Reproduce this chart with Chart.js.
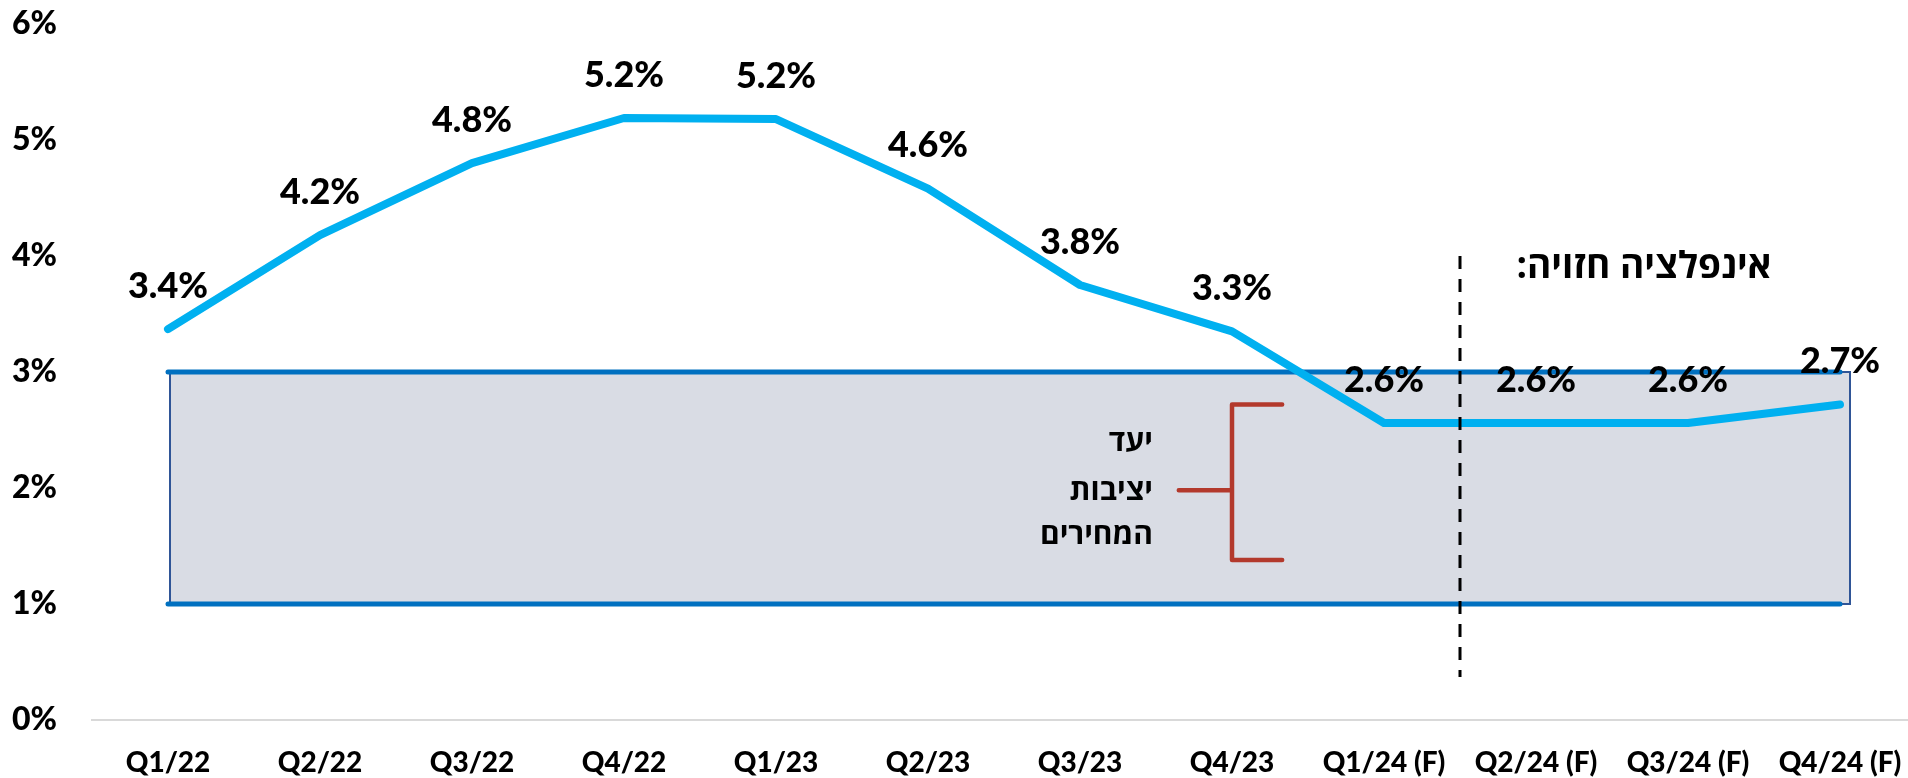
<!DOCTYPE html>
<html>
<head>
<meta charset="utf-8">
<script src="https://cdn.jsdelivr.net/npm/chart.js@4"></script>
<style>
  html, body { margin: 0; padding: 0; background: #fff; overflow: hidden; width: 1908px; height: 778px; }
  canvas { display: block; }
</style>
</head>
<body>
<canvas id="c" width="1916" height="778"></canvas>
<script>
const categories = ['Q1/22','Q2/22','Q3/22','Q4/22','Q1/23','Q2/23','Q3/23','Q4/23','Q1/24 (F)','Q2/24 (F)','Q3/24 (F)','Q4/24 (F)'];
const inflation = [3.37, 4.18, 4.80, 5.19, 5.18, 4.58, 3.75, 3.35, 2.56, 2.56, 2.56, 2.72];
const inflationLabels = ['3.4%','4.2%','4.8%','5.2%','5.2%','4.6%','3.8%','3.3%','2.6%','2.6%','2.6%','2.7%'];
const targetUpper = [3, 3, 3, 3, 3, 3, 3, 3, 3, 3, 3, 3];
const targetLower = [1, 1, 1, 1, 1, 1, 1, 1, 1, 1, 1, 1];
const yTicks = [0, 1, 2, 3, 4, 5, 6];
const forecastTitle = 'אינפלציה חזויה:';
const targetTextLines = ['יעד', 'יציבות', 'המחירים'];
const forecastSplitIndex = 8.5;

const FONT = 'Lato, "Open Sans", "Liberation Sans", "DejaVu Sans", sans-serif';
const HEB_FONT = '"Open Sans", "Liberation Sans", "DejaVu Sans", sans-serif';

const decorPlugin = {
  id: 'decor',
  beforeDatasetsDraw(chart) {
    const ctx = chart.ctx, x = chart.scales.x, y = chart.scales.y;
    const l = x.getPixelForValue(0) + 2, r = x.getPixelForValue(categories.length - 1) + 10;
    const t = y.getPixelForValue(targetUpper[0]), b = y.getPixelForValue(targetLower[0]);
    ctx.save();
    ctx.fillStyle = '#D9DCE4';
    ctx.fillRect(l, t, r - l, b - t);
    ctx.strokeStyle = '#2F5597';
    ctx.lineWidth = 2;
    ctx.strokeRect(l, t, r - l, b - t);
    ctx.restore();
  },
  afterDatasetsDraw(chart) {
    const ctx = chart.ctx, x = chart.scales.x, y = chart.scales.y;
    ctx.save();
    // data labels
    const meta = chart.getDatasetMeta(0);
    ctx.fillStyle = '#000';
    ctx.font = '900 36px ' + FONT;
    ctx.textAlign = 'center';
    ctx.textBaseline = 'middle';
    meta.data.forEach((pt, i) => {
      ctx.fillText(inflationLabels[i], pt.x, pt.y - 43);
    });
    // dashed forecast divider
    const dx = x.getPixelForValue(forecastSplitIndex);
    ctx.strokeStyle = '#000';
    ctx.lineWidth = 3;
    ctx.setLineDash([13, 10]);
    ctx.beginPath();
    ctx.moveTo(dx, y.getPixelForValue(4.0));
    ctx.lineTo(dx, y.getPixelForValue(0.37));
    ctx.stroke();
    ctx.setLineDash([]);
    // forecast title
    ctx.direction = 'rtl';
    ctx.font = 'bold 37px ' + HEB_FONT;
    ctx.textAlign = 'right';
    ctx.fillText(forecastTitle, x.getPixelForValue(10.55), y.getPixelForValue(3.9));
    // target bracket
    const bx = x.getPixelForValue(7);
    ctx.strokeStyle = '#B3392C';
    ctx.lineWidth = 4.5;
    ctx.lineCap = 'round';
    ctx.lineJoin = 'round';
    ctx.beginPath();
    ctx.moveTo(x.getPixelForValue(7.33), y.getPixelForValue(2.72));
    ctx.lineTo(bx, y.getPixelForValue(2.72));
    ctx.lineTo(bx, y.getPixelForValue(1.38));
    ctx.lineTo(x.getPixelForValue(7.33), y.getPixelForValue(1.38));
    ctx.moveTo(bx, y.getPixelForValue(1.98));
    ctx.lineTo(x.getPixelForValue(6.65), y.getPixelForValue(1.98));
    ctx.stroke();
    // target text
    ctx.fillStyle = '#000';
    ctx.font = 'bold 30px ' + HEB_FONT;
    const tx = x.getPixelForValue(6.48);
    const ty = [2.39, 1.97, 1.59];
    targetTextLines.forEach((s, i) => ctx.fillText(s, tx, y.getPixelForValue(ty[i])));
    ctx.restore();
  }
};

new Chart(document.getElementById('c'), {
  type: 'line',
  data: {
    labels: categories,
    datasets: [
      {
        label: 'Inflation',
        data: inflation,
        borderColor: '#00B0F0',
        borderWidth: 8,
        pointRadius: 0,
        tension: 0,
        borderCapStyle: 'round',
        borderJoinStyle: 'round',
        fill: false,
        order: 0
      },
      {
        label: 'Upper target',
        data: targetUpper,
        borderColor: '#0070C0',
        borderWidth: 5,
        pointRadius: 0,
        borderCapStyle: 'round',
        fill: false,
        order: 1
      },
      {
        label: 'Lower target',
        data: targetLower,
        borderColor: '#0070C0',
        borderWidth: 5,
        pointRadius: 0,
        borderCapStyle: 'round',
        fill: false,
        order: 2
      }
    ]
  },
  options: {
    responsive: false,
    animation: false,
    events: [],
    layout: { padding: { left: 12, top: 24, right: 0, bottom: 0 } },
    plugins: { legend: { display: false }, tooltip: { enabled: false } },
    scales: {
      x: {
        offset: true,
        grid: { display: false, drawTicks: false },
        border: { display: true, color: '#D9D9D9', width: 2 },
        ticks: {
          color: '#000',
          font: { family: FONT, size: 28, weight: '900', lineHeight: 3.05 },
          padding: 0,
          maxRotation: 0,
          autoSkip: false
        },
        afterFit(scale) { scale.height = 58; }
      },
      y: {
        min: 0,
        max: 6,
        afterBuildTicks(scale) { scale.ticks = yTicks.map(v => ({ value: v })); },
        grid: { display: false, drawTicks: false },
        border: { display: false },
        ticks: {
          color: '#000',
          crossAlign: 'far',
          padding: 0,
          font: { family: FONT, size: 32, weight: '900' },
          callback: v => v + '%'
        },
        afterFit(scale) { scale.width = 80; }
      }
    }
  },
  plugins: [decorPlugin]
});
</script>
</body>
</html>
